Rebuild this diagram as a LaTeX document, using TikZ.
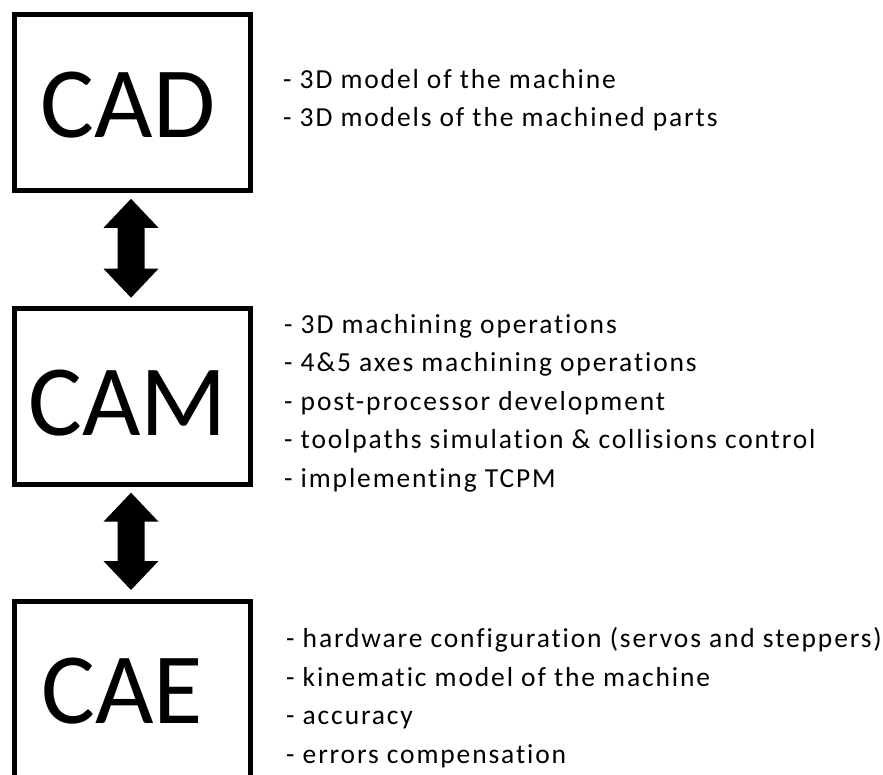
\documentclass[tikz,border=0pt]{standalone}
\usepackage{fontspec}
\setmainfont{Carlito}
\newfontfamily\listfont{Carlito}[LetterSpace=6.8, Ligatures=NoCommon]
\usetikzlibrary{calc}
\tikzset{
  stagebox/.style={draw=black, line width=5pt, minimum width=236pt, minimum height=176pt, inner sep=0pt},
  stagelbl/.style={font=\fontsize{101}{110}\selectfont, inner sep=0pt},
  itemlist/.style={font=\listfont\fontsize{27.5}{38.5}\selectfont, align=left, anchor=base west, inner sep=0pt},
}
\newcommand\dblarr[2]{%
  \fill[black] let \p1=(#1), \p2=(#2) in
    (\x1,\y1) -- (\x1+27.5pt,\y1-29pt) -- (\x1+13.5pt,\y1-29pt) -- (\x1+13.5pt,\y2+29pt)
    -- (\x1+27.5pt,\y2+29pt) -- (\x1,\y2) -- (\x1-27.5pt,\y2+29pt) -- (\x1-13.5pt,\y2+29pt)
    -- (\x1-13.5pt,\y1-29pt) -- (\x1-27.5pt,\y1-29pt) -- cycle;}
\begin{document}
\begin{tikzpicture}[x=1pt, y=-1pt]
\useasboundingbox (0,0) rectangle (883,775);
\clip (0,0) rectangle (883,775);
\node[stagebox] (cad) at (132.5,102.3) {};
\node[stagebox] (cam) at (132.5,396.2) {};
\node[stagebox] (cae) at (132.5,689.5) {};
\node[stagelbl] (cadl) at ($(cad)+(-4.5,3)$) {CAD};
\node[stagelbl] (caml) at ($(cam)+(-5,7)$) {CAM};
\node[stagelbl] (cael) at ($(cae)+(-10.5,1.5)$) {CAE};
\coordinate (a1t) at ($(cad.south)+(-1.5,6)$);
\coordinate (a1b) at ($(cam.north)+(-1.5,-8)$);
\coordinate (a2t) at ($(cam.south)+(-1.5,6)$);
\coordinate (a2b) at ($(cae.north)+(-1.5,-9)$);
\dblarr{a1t}{a1b}
\dblarr{a2t}{a2b}
\node[itemlist] (cadt) at (283,127) {- 3D model of the machine\\- 3D models of the machined parts};
\node[itemlist] (camt) at (284,487) {- 3D machining operations\\- 4\&5 axes machining operations\\- post-processor development\\- toolpaths simulation \& collisions control\\- implementing TCPM};
\node[itemlist] (caet) at (286,763) {- hardware configuration (servos and steppers)\\- kinematic model of the machine\\- accuracy\\- errors compensation};
\end{tikzpicture}
\end{document}
